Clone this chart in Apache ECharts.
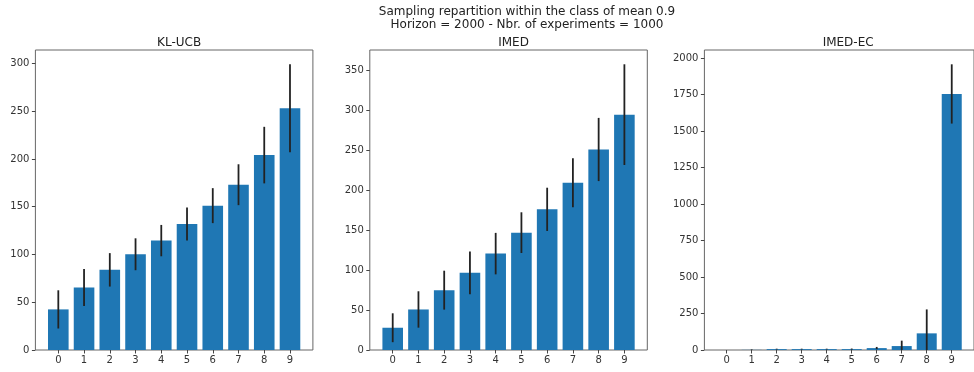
<!DOCTYPE html>
<html>
<head>
<meta charset="utf-8">
<script src="https://cdn.jsdelivr.net/npm/echarts@6/dist/echarts.min.js"></script>
<style>
  html, body { margin: 0; padding: 0; background: #fff; }
  #chart { width: 974px; height: 372px; }
</style>
</head>
<body>
<div id="chart"></div>
<script>
// arm indices on the x axis
var arms = [0, 1, 2, 3, 4, 5, 6, 7, 8, 9];

// mean number of pulls per arm, and std (error bar half length)
var klucbMeans = [42.5, 65.4, 83.9, 100.2, 114.5, 131.9, 151.1, 173.0, 204.0, 253.0];
var klucbErrs = [20.0, 19.3, 17.5, 16.7, 16.4, 17.2, 18.3, 21.4, 29.6, 46.1];
var imedMeans = [27.9, 50.8, 75.0, 96.7, 120.8, 147.1, 176.3, 209.6, 251.3, 295.0];
var imedErrs = [18.1, 22.8, 24.4, 26.9, 26.0, 25.5, 27.1, 30.8, 39.6, 63.1];
var imedecMeans = [0, 1, 6, 6, 6, 6, 13, 27, 114, 1754];
var imedecErrs = [0, 3, 3, 3, 3, 4, 8, 37, 164, 203];

// tick labels of the y axes
var yTicks1 = [0, 50, 100, 150, 200, 250, 300];
var yTicks2 = [0, 50, 100, 150, 200, 250, 300, 350];
var yTicks3 = [0, 250, 500, 750, 1000, 1250, 1500, 1750, 2000];

var titles = ['KL-UCB', 'IMED', 'IMED-EC'];
var yMax = [314, 376, 2055];
var lefts = [35.4, 369.8, 704.4];
var plotW = 277.5;

function pack(means, errs) {
  return arms.map(function (a, i) { return [a, means[i], errs[i]]; });
}

function renderItem(params, api) {
  var x = api.value(0), v = api.value(1), e = api.value(2);
  var p0 = api.coord([x - 0.4, v]);
  var p1 = api.coord([x + 0.4, 0]);
  var eTop = api.coord([x, v + e]);
  var eBot = api.coord([x, Math.max(v - e, 0)]);
  return {
    type: 'group',
    children: [
      {
        type: 'rect',
        shape: { x: p0[0], y: p0[1], width: p1[0] - p0[0], height: p1[1] - p0[1] },
        style: { fill: '#1f77b4' }
      },
      {
        type: 'line',
        shape: { x1: eTop[0], y1: eTop[1], x2: eBot[0], y2: eBot[1] },
        style: { stroke: '#222', lineWidth: 1.8 }
      }
    ]
  };
}

var chart = echarts.init(document.getElementById('chart'));
var textStyle = { color: '#222', fontFamily: 'DejaVu Sans', fontSize: 12, fontWeight: 'normal' };
var labelStyle = { color: '#333', fontFamily: 'DejaVu Sans', fontSize: 10 };
var plain = function (v) { return String(v); };

var grids = [], xAxes = [], yAxes = [], series = [], titleList = [];
var datasets = [pack(klucbMeans, klucbErrs), pack(imedMeans, imedErrs), pack(imedecMeans, imedecErrs)];
var yTickSets = [yTicks1, yTicks2, yTicks3];

titleList.push({
  text: 'Sampling repartition within the class of mean 0.9\nHorizon = 2000 - Nbr. of experiments = 1000',
  left: 522, top: 0, textAlign: 'center',
  textStyle: Object.assign({}, textStyle, { lineHeight: 13.5 })
});

for (var k = 0; k < 3; k++) {
  grids.push({
    left: lefts[k], top: 50, width: plotW, height: 300,
    show: true, borderColor: '#666', borderWidth: 1, backgroundColor: 'transparent'
  });
  titleList.push({
    text: titles[k], left: lefts[k] + plotW / 2, top: 32, textAlign: 'center', textStyle: textStyle
  });
  xAxes.push({
    type: 'value', gridIndex: k, min: -0.89, max: 9.89, position: 'bottom',
    axisLine: { show: false, onZero: false },
    splitLine: { show: false },
    axisTick: { show: true, length: 3.5, customValues: arms, lineStyle: { color: '#444' } },
    axisLabel: Object.assign({ customValues: arms, margin: 5, formatter: plain }, labelStyle)
  });
  yAxes.push({
    type: 'value', gridIndex: k, min: 0, max: yMax[k], position: 'left',
    axisLine: { show: false, onZero: false },
    splitLine: { show: false },
    axisTick: { show: true, length: 3.5, customValues: yTickSets[k], lineStyle: { color: '#444' } },
    axisLabel: Object.assign({ customValues: yTickSets[k], margin: 6, formatter: plain }, labelStyle)
  });
  series.push({
    type: 'custom', xAxisIndex: k, yAxisIndex: k,
    renderItem: renderItem,
    encode: { x: 0, y: 1 },
    data: datasets[k],
    silent: true
  });
}

chart.setOption({
  animation: false,
  title: titleList,
  grid: grids,
  xAxis: xAxes,
  yAxis: yAxes,
  series: series
});
</script>
</body>
</html>
